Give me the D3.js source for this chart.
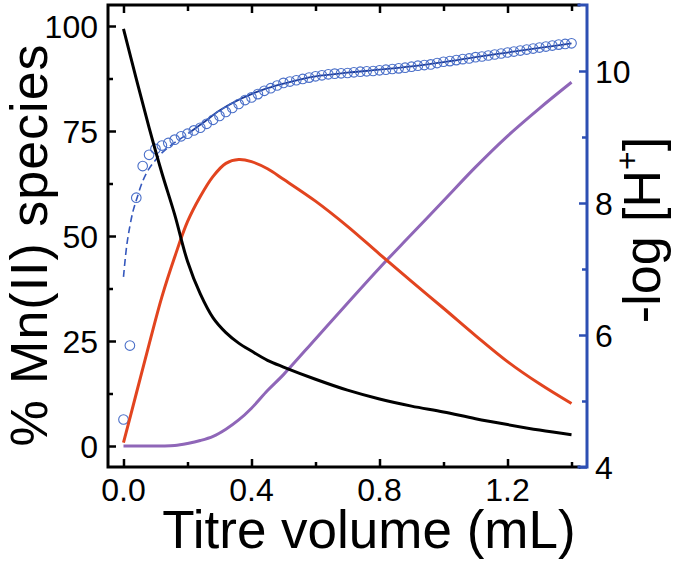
<!DOCTYPE html>
<html><head><meta charset="utf-8">
<script src="https://cdn.jsdelivr.net/npm/d3@7"></script>
<style>body{margin:0;background:#fff}svg{display:block}</style>
</head><body>
<script>
// ---- data ----
const speciesVolume = [0,0.04,0.08,0.12,0.16,0.2,0.24,0.28,0.32,0.36,0.4,0.45,0.5,0.6,0.7,0.8,0.9,1.0,1.1,1.2,1.3,1.4];
const mnFree   = [99.3,87.4,75.8,65.0,55.1,44.0,36.2,30.5,27.0,24.5,22.6,20.4,18.8,15.9,13.3,11.2,9.5,8.1,6.5,5.1,3.8,2.7];
const mnMono   = [0.8,12.5,24.2,35.5,45.0,53.4,59.4,64.2,67.3,68.2,67.7,66.0,63.5,58.3,52.3,45.7,39.2,32.8,26.3,20.1,14.8,10.1];
const mnBis    = [0,0,0,0,0.1,0.6,1.3,2.3,4.0,6.2,9.0,13.2,17.0,25.5,34.0,42.4,50.4,58.4,66.4,73.8,80.4,86.6];

const titreVolume = [0,0.02,0.04,0.06,0.08,0.10,0.12,0.14,0.16,0.18,0.20,0.22,0.24,0.26,0.28,0.30,0.32,0.34,0.36,0.38,0.40,0.42,0.44,0.46,0.48,0.50,0.52,0.54,0.56,0.58,0.60,0.62,0.64,0.66,0.68,0.70,0.72,0.74,0.76,0.78,0.80,0.82,0.84,0.86,0.88,0.90,0.92,0.94,0.96,0.98,1.00,1.02,1.04,1.06,1.08,1.10,1.12,1.14,1.16,1.18,1.20,1.22,1.24,1.26,1.28,1.30,1.32,1.34,1.36,1.38,1.40];
const pHmeasured = [4.72,5.84,8.08,8.56,8.73,8.82,8.87,8.91,8.96,9.01,9.05,9.10,9.14,9.20,9.26,9.32,9.38,9.44,9.50,9.56,9.60,9.65,9.70,9.74,9.78,9.82,9.84,9.86,9.88,9.90,9.92,9.935,9.95,9.96,9.965,9.97,9.98,9.99,9.995,10.00,10.01,10.02,10.03,10.04,10.05,10.065,10.08,10.09,10.10,10.12,10.14,10.15,10.165,10.18,10.19,10.21,10.22,10.235,10.25,10.265,10.28,10.295,10.31,10.325,10.34,10.355,10.37,10.385,10.40,10.41,10.42];

const fitVolume = [0,0.01,0.02,0.03,0.04,0.06,0.08,0.10,0.12,0.15,0.18,0.21,0.25,0.30,0.35,0.40,0.45,0.50,0.55,0.60,0.70,0.80,0.90,1.00,1.10,1.20,1.30,1.40];
const pHfit     = [6.88,7.35,7.65,7.88,8.04,8.33,8.52,8.65,8.76,8.88,8.98,9.08,9.22,9.40,9.54,9.65,9.74,9.81,9.87,9.92,9.975,10.02,10.07,10.135,10.21,10.28,10.35,10.42];
const dashedUntil = 0.21;

const xTicks = [0,0.4,0.8,1.2];
const xMinor = [0.2,0.6,1.0,1.4];
const yTicks = [0,25,50,75,100];
const yMinor = [12.5,37.5,62.5,87.5];
const y2Ticks = [4,6,8,10];
const y2Minor = [5,7,9];

// ---- layout ----
const W = 675, H = 563;
const L = 108, R = 587, T = 5, B = 467;
const font = "'Liberation Sans', Arial, sans-serif";
const blueAxis = "#2d4fb3";

const svg = d3.select("body").append("svg").attr("width", W).attr("height", H);

const x = d3.scaleLinear().domain([-0.0484, 1.4484]).range([L, R]);
const y = d3.scaleLinear().domain([-5, 105]).range([B, T]);
const y2 = d3.scaleLinear().domain([4, 11]).range([B, T]);

// ---- pH data & fit ----
const fitData = fitVolume.map((v, i) => ({v, p: pHfit[i]}));
const fitLine = d3.line().x(d => x(d.v)).y(d => y2(d.p)).curve(d3.curveCatmullRom.alpha(0.5));
svg.append("path").datum(fitData.filter(d => d.v <= dashedUntil))
  .attr("d", fitLine).attr("fill", "none").attr("stroke", "#3558bd")
  .attr("stroke-width", 1.6).attr("stroke-dasharray", "7,4");
svg.append("path").datum(fitData.filter(d => d.v >= dashedUntil))
  .attr("d", fitLine).attr("fill", "none").attr("stroke", "#1d3b98")
  .attr("stroke-width", 1.8);

svg.append("g").selectAll("circle").data(titreVolume.map((v, i) => ({v, p: pHmeasured[i]})))
  .join("circle").attr("cx", d => x(d.v)).attr("cy", d => y2(d.p)).attr("r", 4.8)
  .attr("fill", "none").attr("stroke", "#4a6fc8").attr("stroke-width", 1.1);

// ---- species curves ----
const sLine = d3.line().x(d => x(d.v)).y(d => y(d.p)).curve(d3.curveCatmullRom.alpha(0.5));
[[mnBis, "#8f66b8"], [mnMono, "#e2441f"], [mnFree, "#000000"]].forEach(([vals, col]) => {
  svg.append("path").datum(speciesVolume.map((v, i) => ({v, p: vals[i]})))
    .attr("d", sLine).attr("fill", "none").attr("stroke", col)
    .attr("stroke-width", 3).attr("stroke-linejoin", "round");
});

// ---- axes ----
function clean(g) { g.selectAll(".domain").remove(); g.selectAll("text").remove(); }

const gB = svg.append("g").attr("transform", `translate(0,${B})`);
gB.append("g").call(d3.axisTop(x).tickValues(xTicks).tickSize(8)).call(clean);
gB.append("g").call(d3.axisTop(x).tickValues(xMinor).tickSize(5)).call(clean);
gB.selectAll("line").attr("stroke", "#000").attr("stroke-width", 2.5);

const gT = svg.append("g").attr("transform", `translate(0,${T})`);
gT.append("g").call(d3.axisBottom(x).tickValues(xTicks).tickSize(8)).call(clean);
gT.append("g").call(d3.axisBottom(x).tickValues(xMinor).tickSize(6)).call(clean);
gT.selectAll("line").attr("stroke", "#000").attr("stroke-width", 2.5);

const gL = svg.append("g").attr("transform", `translate(${L},0)`);
gL.append("g").call(d3.axisRight(y).tickValues(yTicks).tickSize(8)).call(clean);
gL.append("g").call(d3.axisRight(y).tickValues(yMinor).tickSize(5)).call(clean);
gL.selectAll("line").attr("stroke", "#000").attr("stroke-width", 2.5);

const gR = svg.append("g").attr("transform", `translate(${R},0)`);
gR.append("g").call(d3.axisLeft(y2).tickValues(y2Ticks).tickSize(8)).call(clean);
gR.append("g").call(d3.axisLeft(y2).tickValues(y2Minor).tickSize(5)).call(clean);
gR.selectAll("line").attr("stroke", blueAxis).attr("stroke-width", 2.5);

// tick labels
const labels = svg.append("g").attr("font-family", font).attr("font-size", 32).attr("fill", "#000");
labels.selectAll(".xl").data(xTicks).join("text").attr("class", "xl")
  .attr("x", d => x(d)).attr("y", 501).attr("text-anchor", "middle").text(d3.format(".1f"));
labels.selectAll(".yl").data(yTicks).join("text").attr("class", "yl")
  .attr("x", L - 10).attr("y", d => y(d)).attr("dy", "0.36em").attr("text-anchor", "end").text(d => d);
labels.selectAll(".y2l").data(y2Ticks).join("text").attr("class", "y2l")
  .attr("x", R + 8).attr("y", d => y2(d)).attr("dy", "0.36em").attr("text-anchor", "start").text(d => d);

// frame
svg.append("path").attr("d", `M${R-8},${T}H${L}V${B}H${R-8}`).attr("fill", "none")
  .attr("stroke", "#000").attr("stroke-width", 3).attr("stroke-linecap", "square");
svg.append("path").attr("d", `M${R-8},${T}H${R}V${B}H${R-8}`).attr("fill", "none")
  .attr("stroke", blueAxis).attr("stroke-width", 3).attr("stroke-linecap", "square");

// titles
svg.append("text").attr("x", 369).attr("y", 548).attr("text-anchor", "middle")
  .attr("font-family", font).attr("font-size", 53).attr("fill", "#000").text("Titre volume (mL)");
svg.append("text").attr("transform", "translate(47,245) rotate(-90)").attr("text-anchor", "middle")
  .attr("font-family", font).attr("font-size", 52).attr("letter-spacing", 1).attr("fill", "#000")
  .text("% Mn(II) species");
const rt = svg.append("text").attr("transform", "translate(660,230) rotate(-90)").attr("text-anchor", "middle")
  .attr("font-family", font).attr("font-size", 52).attr("fill", "#000");
rt.append("tspan").text("-log [H");
rt.append("tspan").attr("font-size", 32).attr("dy", -22).text("+");
rt.append("tspan").attr("dy", 22).text("]");
</script>
</body></html>
